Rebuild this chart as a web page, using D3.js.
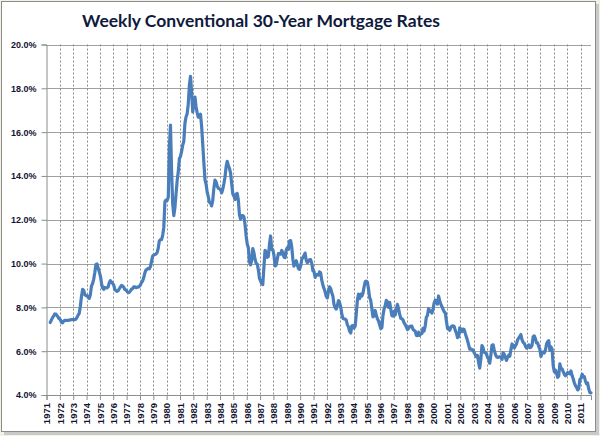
<!DOCTYPE html>
<html><head><meta charset="utf-8">
<script src="https://cdn.jsdelivr.net/npm/d3@7"></script>
<style>body{margin:0;background:#fff}svg{display:block}</style>
</head><body>
<svg id="chart" width="600" height="436"></svg>
<script>
// Monthly averages of weekly 30-year conventional mortgage rates (%), starting April 1971
const startYear = 1971, startMonth = 3; // April (0-based)
const rates1970s = [
  7.31,7.43,7.53,7.60,7.70,7.69,7.63,7.55,7.48,
  7.44,7.32,7.29,7.37,7.41,7.40,7.41,7.40,7.42,7.43,7.44,7.44,
  7.44,7.44,7.46,7.54,7.65,7.73,8.05,8.50,8.82,8.77,8.58,8.54,
  8.54,8.46,8.41,8.58,8.97,9.09,9.28,9.59,9.96,9.98,9.79,9.62,
  9.43,9.10,8.89,8.82,8.91,8.89,8.89,8.94,9.13,9.22,9.15,9.10,
  9.02,8.81,8.76,8.73,8.76,8.85,8.93,9.00,8.98,8.92,8.81,8.79,
  8.72,8.67,8.69,8.75,8.83,8.86,8.94,8.94,8.90,8.92,8.92,8.96,
  9.02,9.15,9.20,9.36,9.57,9.71,9.74,9.78,9.76,9.86,10.11,10.35,
  10.39,10.41,10.43,10.50,10.69,11.04,11.09,11.09,11.30,11.64,12.83,12.90
];
const rates1980s = [
  12.88,13.04,15.28,16.32,14.26,12.71,12.19,12.56,13.20,13.79,14.21,14.79,
  14.90,15.13,15.40,15.58,16.40,16.70,16.83,17.29,18.16,18.55,17.83,16.92,
  17.40,17.60,17.16,16.89,16.68,16.70,16.82,16.27,15.43,14.61,13.83,13.62,
  13.25,13.04,12.80,12.78,12.63,12.87,13.42,13.81,13.73,13.54,13.44,13.42,
  13.37,13.23,13.39,13.65,13.94,14.42,14.67,14.47,14.35,14.13,13.64,13.18,
  13.08,12.92,13.17,13.20,12.91,12.22,12.03,12.19,12.19,12.14,11.78,11.26,
  10.88,10.71,10.08,9.94,10.14,10.68,10.51,10.20,10.01,9.98,9.70,9.32,
  9.20,9.08,9.04,9.83,10.60,10.54,10.28,10.33,10.89,11.26,10.65,10.64,
  10.38,9.89,9.93,10.20,10.46,10.46,10.43,10.60,10.48,10.30,10.27,10.61,
  10.73,10.65,11.03,11.05,10.77,10.20,9.88,9.99,10.13,9.95,9.77,9.74
];
const rates1990s = [
  9.90,10.20,10.27,10.37,10.48,10.16,10.04,10.10,10.18,10.18,10.01,9.67,
  9.64,9.37,9.50,9.49,9.47,9.62,9.58,9.24,9.01,8.86,8.71,8.50,
  8.43,8.76,8.94,8.85,8.67,8.51,8.13,7.98,7.92,8.09,8.31,8.22,
  8.02,7.68,7.50,7.47,7.47,7.42,7.21,7.11,6.91,6.83,7.16,7.17,
  7.06,7.15,7.68,8.32,8.60,8.40,8.61,8.51,8.64,8.93,9.17,9.20,
  9.15,8.83,8.46,8.32,7.96,7.57,7.61,7.86,7.64,7.48,7.38,7.20,
  7.03,7.08,7.62,7.93,8.07,8.32,8.25,8.00,8.23,7.92,7.62,7.60,
  7.82,7.65,7.90,8.14,7.94,7.69,7.50,7.48,7.43,7.29,7.21,7.10,
  6.99,7.04,7.13,7.14,7.14,7.00,6.95,6.92,6.72,6.71,6.87,6.72,
  6.79,6.81,7.04,6.92,7.15,7.55,7.63,7.94,7.82,7.85,7.74,7.91
];
const rates2000s = [
  8.21,8.33,8.24,8.15,8.52,8.29,8.15,8.03,7.91,7.80,7.75,7.38,
  7.03,7.05,6.95,7.08,7.15,7.16,7.13,6.95,6.82,6.62,6.66,7.07,
  7.00,6.89,7.01,6.99,6.81,6.65,6.49,6.29,6.09,6.11,6.07,6.05,
  5.92,5.84,5.75,5.81,5.48,5.23,5.63,6.26,6.15,5.95,5.93,5.88,
  5.71,5.64,5.45,5.83,6.27,6.29,6.06,5.87,5.75,5.72,5.73,5.75,
  5.71,5.63,5.93,5.86,5.72,5.58,5.70,5.82,5.77,6.07,6.33,6.27,
  6.15,6.25,6.32,6.51,6.60,6.68,6.76,6.52,6.40,6.36,6.24,6.14,
  6.22,6.29,6.16,6.18,6.26,6.66,6.70,6.57,6.38,6.38,6.21,6.10,
  5.76,5.92,5.97,5.92,6.04,6.32,6.43,6.48,6.04,6.20,6.09,5.33,
  5.06,5.13,5.00,4.81,4.86,5.42,5.22,5.19,5.06,4.95,4.88,4.93
];
const rates2010s = [
  5.03,4.99,4.97,5.10,4.89,4.74,4.56,4.43,4.35,4.23,4.30,4.71,
  4.76,4.95,4.84,4.84,4.64,4.51,4.55,4.27,4.11,4.10
];
const yTicks = [4,6,8,10,12,14,16,18,20];
const firstTickYear = 1971, lastTickYear = 2011;
const titleText = "Weekly Conventional 30-Year Mortgage Rates";

const rates = [].concat(rates1970s, rates1980s, rates1990s, rates2000s, rates2010s);
const data = rates.map((v, i) => ({
  date: new Date(startYear, startMonth + i, 15),
  value: v
}));

const svg = d3.select("#chart");
const W = 600, H = 436;
// outer frame
svg.append("rect").attr("x",0).attr("y",0).attr("width",W).attr("height",H).attr("fill","#f4f1e4");
svg.append("rect").attr("x",4).attr("y",4).attr("width",595).attr("height",431).attr("fill","#c9c9c9");
svg.append("rect").attr("x",1.5).attr("y",1.5).attr("width",594).attr("height",430)
  .attr("fill","#fff").attr("stroke","#8c8c8c").attr("stroke-width",1);

const pL = 46.5, pR = 591, pT = 44.5, pB = 395;
const x = d3.scaleTime()
  .domain([new Date(firstTickYear,0,1), data[data.length-1].date])
  .range([pL, pR]);
const y = d3.scaleLinear().domain([4,20]).range([pB, pT]);

// horizontal gridlines
svg.append("g").selectAll("line").data(yTicks.slice(1)).join("line")
  .attr("x1", pL).attr("x2", pR)
  .attr("y1", d => Math.round(y(d))+0.5).attr("y2", d => Math.round(y(d))+0.5)
  .attr("stroke","#a0a0a0").attr("stroke-width",1);

// vertical dotted gridlines
const yearTicks = d3.range(firstTickYear, lastTickYear+1).map(yr => new Date(yr,0,1));
svg.append("g").selectAll("line").data(yearTicks.slice(1)).join("line")
  .attr("x1", d => Math.round(x(d))+0.5).attr("x2", d => Math.round(x(d))+0.5)
  .attr("y1", pT).attr("y2", pB)
  .attr("stroke","#8a8a8a").attr("stroke-width",1).attr("stroke-dasharray","2,2");

// y axis
const yAxis = d3.axisLeft(y).tickValues(yTicks).tickSize(5).tickPadding(5)
  .tickFormat(d => d3.format(".1f")(d) + "%");
const gy = svg.append("g").attr("transform", `translate(${pL},0)`).call(yAxis);
gy.select(".domain").attr("stroke","#8c8c8c");
gy.selectAll(".tick line").attr("stroke","#8c8c8c");
gy.selectAll(".tick text").attr("font-family","Liberation Sans, Arial, sans-serif")
  .attr("font-weight","bold").attr("font-size","9px").attr("fill","#141432");

// x axis
const xAxis = d3.axisBottom(x).tickValues(yearTicks).tickSize(5)
  .tickFormat(d3.timeFormat("%Y"));
const gx = svg.append("g").attr("transform", `translate(0,${pB})`).call(xAxis);
gx.select(".domain").attr("stroke","#8c8c8c");
gx.selectAll(".tick line").attr("stroke","#8c8c8c");
gx.selectAll(".tick text").attr("font-family","Liberation Sans, Arial, sans-serif")
  .attr("font-weight","bold").attr("font-size","9.5px").attr("fill","#141432")
  .attr("transform","rotate(-90)").attr("text-anchor","end")
  .attr("x",-8).attr("y",0).attr("dy","0.35em");

// line
const line = d3.line().x(d => x(d.date)).y(d => y(d.value));
svg.append("path").datum(data).attr("d", line)
  .attr("fill","none").attr("stroke","#4a7ebb").attr("stroke-width",3.2)
  .attr("stroke-linejoin","round").attr("stroke-linecap","round");

// title
svg.append("text").attr("x",261).attr("y",27).attr("text-anchor","middle")
  .attr("font-family","Lato, Carlito, sans-serif").attr("font-weight","bold")
  .attr("font-size","17.5px").attr("fill","#0f1a3c").text(titleText);
</script>
</body></html>
